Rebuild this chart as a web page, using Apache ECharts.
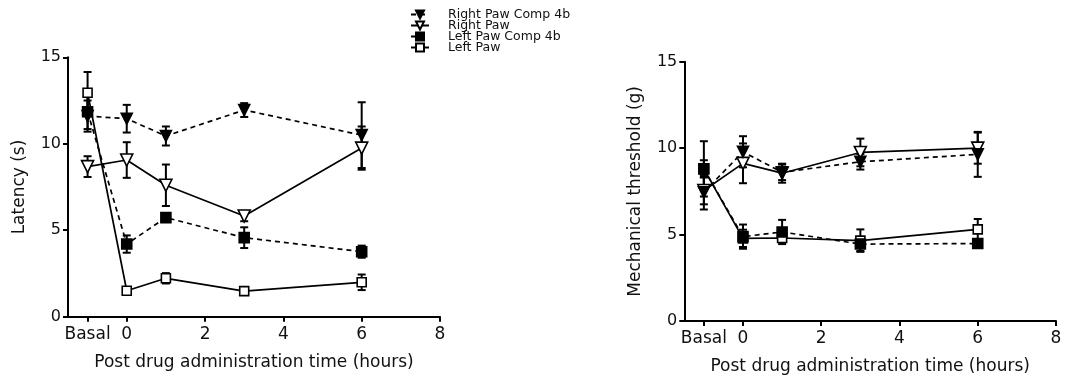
<!DOCTYPE html>
<html>
<head>
<meta charset="utf-8">
<script src="https://cdn.jsdelivr.net/npm/echarts@6/dist/echarts.min.js"></script>
<style>
html,body{margin:0;padding:0;background:#fff;}
#c{width:1065px;height:382px;}
</style>
</head>
<body>
<div id="c"></div>
<script>
// x positions: Basal is plotted at -1
const timePoints = [-1, 0, 1, 3, 6];
const xTickValues = [-1, 0, 2, 4, 6, 8];
const yTickValues = [0, 5, 10, 15];
const seriesNames = ['Right Paw Comp 4b', 'Right Paw', 'Left Paw Comp 4b', 'Left Paw'];

// Latency (s)
const latRightComp = [11.6, 11.45, 10.45, 11.95, 10.5];
const latRightCompErr = [0.9, 0.8, 0.55, 0.4, 1.9];
const latRight = [8.68, 9.06, 7.6, 5.82, 9.75];
const latRightErr = [0.6, 1.03, 1.2, 0.3, 1.25];
const latLeftComp = [11.85, 4.2, 5.73, 4.57, 3.76];
const latLeftCompErr = [1.0, 0.5, 0.2, 0.6, 0.35];
const latLeft = [12.95, 1.5, 2.22, 1.48, 1.99];
const latLeftErr = [1.2, 0.1, 0.3, 0.15, 0.45];

// Mechanical threshold (g)
const mechRightComp = [7.45, 9.79, 8.6, 9.21, 9.64];
const mechRightCompErr = [1.0, 0.9, 0.45, 0.45, 1.3];
const mechRight = [7.55, 9.12, 8.55, 9.75, 10.0];
const mechRightErr = [0.8, 1.15, 0.55, 0.8, 0.9];
const mechLeftComp = [8.8, 4.88, 5.15, 4.45, 4.48];
const mechLeftCompErr = [1.6, 0.7, 0.7, 0.4, 0.12];
const mechLeft = [8.8, 4.78, 4.8, 4.65, 5.3];
const mechLeftErr = [0.5, 0.5, 0.2, 0.65, 0.6];

const FONT = 'DejaVu Sans';
const INK = '#111';

const styles = {
  'Right Paw Comp 4b': {symbol: 'triangle', rotate: 180, fill: '#000', dash: [5, 4], size: 11, z: 4},
  'Right Paw': {symbol: 'triangle', rotate: 180, fill: '#fff', dash: 'solid', size: 12, z: 3},
  'Left Paw Comp 4b': {symbol: 'rect', rotate: 0, fill: '#000', dash: [5, 4], size: 10, z: 4},
  'Left Paw': {symbol: 'rect', rotate: 0, fill: '#fff', dash: 'solid', size: 9, z: 3}
};

function renderErr(params, api) {
  const x = api.value(0), lo = api.value(1), hi = api.value(2);
  const p1 = api.coord([x, lo]), p2 = api.coord([x, hi]);
  const hw = 4;
  const st = {stroke: '#000', lineWidth: 2};
  return {type: 'group', children: [
    {type: 'line', shape: {x1: p1[0], y1: p1[1], x2: p2[0], y2: p2[1]}, style: st},
    {type: 'line', shape: {x1: p1[0] - hw, y1: p1[1], x2: p1[0] + hw, y2: p1[1]}, style: st},
    {type: 'line', shape: {x1: p2[0] - hw, y1: p2[1], x2: p2[0] + hw, y2: p2[1]}, style: st}
  ]};
}

function makeSeries(name, vals, errs, idx) {
  const s = styles[name];
  return [
    {
      name: 'err-' + name + '-' + idx, type: 'custom', xAxisIndex: idx, yAxisIndex: idx,
      renderItem: renderErr, silent: true, z: 2,
      encode: {x: 0, y: [1, 2]},
      data: timePoints.map((x, i) => [x, vals[i] - errs[i], vals[i] + errs[i]])
    },
    {
      name: name, type: 'line', xAxisIndex: idx, yAxisIndex: idx, z: s.z,
      data: timePoints.map((x, i) => [x, vals[i]]),
      symbol: s.symbol, symbolRotate: s.rotate, symbolSize: s.size,
      showAllSymbol: true,
      lineStyle: {color: '#000', width: 1.7, type: s.dash},
      itemStyle: {color: s.fill, borderColor: '#000', borderWidth: 1.6},
      emphasis: {disabled: true},
      animation: false
    }
  ];
}

function xAxisDef(idx) {
  return {
    type: 'value', gridIndex: idx, min: -1.5, max: 8,
    name: 'Post drug administration time (hours)', nameLocation: 'middle', nameGap: 37,
    nameTextStyle: {fontFamily: FONT, fontSize: 17, color: INK},
    axisLine: {show: true, onZero: false, lineStyle: {color: '#000', width: 2}},
    axisTick: {show: true, inside: false, length: 5, customValues: xTickValues, lineStyle: {color: '#000', width: 2}},
    axisLabel: {customValues: xTickValues, margin: 9, fontFamily: FONT, fontSize: 17, color: INK,
      formatter: v => (v === -1 ? 'Basal' : String(v))},
    splitLine: {show: false}
  };
}

function yAxisDef(idx, name) {
  return {
    type: 'value', gridIndex: idx, min: 0, max: 15, interval: 5,
    name: name, nameLocation: 'middle', nameGap: 40,
    nameTextStyle: {fontFamily: FONT, fontSize: 17, color: INK},
    axisLine: {show: true, onZero: false, lineStyle: {color: '#000', width: 2}},
    axisTick: {show: true, inside: false, length: 5, lineStyle: {color: '#000', width: 2}},
    axisLabel: {margin: 7, fontFamily: FONT, fontSize: 16, color: INK},
    splitLine: {show: false}
  };
}

const series = [].concat(
  makeSeries('Right Paw Comp 4b', latRightComp, latRightCompErr, 0),
  makeSeries('Right Paw', latRight, latRightErr, 0),
  makeSeries('Left Paw Comp 4b', latLeftComp, latLeftCompErr, 0),
  makeSeries('Left Paw', latLeft, latLeftErr, 0),
  makeSeries('Right Paw Comp 4b', mechRightComp, mechRightCompErr, 1),
  makeSeries('Right Paw', mechRight, mechRightErr, 1),
  makeSeries('Left Paw Comp 4b', mechLeftComp, mechLeftCompErr, 1),
  makeSeries('Left Paw', mechLeft, mechLeftErr, 1)
);

const chart = echarts.init(document.getElementById('c'), null, {renderer: 'canvas'});
chart.setOption({
  animation: false,
  backgroundColor: '#fff',
  legend: {
    data: seriesNames, orient: 'vertical', left: 405, top: 3,
    itemWidth: 18, itemHeight: 10, itemGap: -2,
    selectedMode: false,
    textStyle: {fontFamily: FONT, fontSize: 12.5, color: INK, lineHeight: 11, verticalAlign: 'middle', padding: [0, 0, 0, 14]}
  },
  grid: [
    {left: 68, top: 57.3, width: 372, height: 259.4},
    {left: 684.3, top: 61.7, width: 371.7, height: 259.3}
  ],
  xAxis: [xAxisDef(0), xAxisDef(1)],
  yAxis: [yAxisDef(0, 'Latency (s)'), yAxisDef(1, 'Mechanical threshold (g)')],
  series: series
});
</script>
</body>
</html>
